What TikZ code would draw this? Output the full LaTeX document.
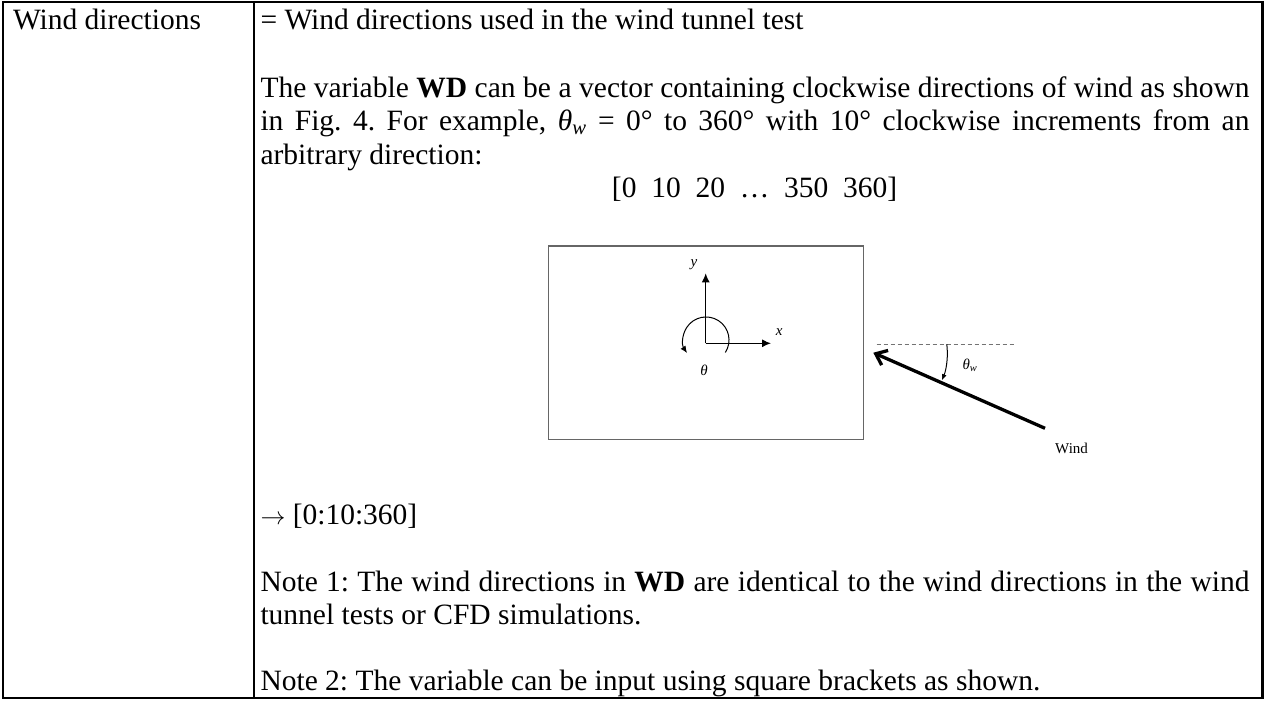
\documentclass[tikz,border=0pt]{standalone}
\usepackage{fontspec}
\setmainfont{Liberation Serif}
\usetikzlibrary{arrows.meta}
\frenchspacing
\begin{document}
\begin{tikzpicture}[x=1pt,y=-1pt,
  txt/.style={anchor=base west, inner sep=0pt, outer sep=0pt, font=\fontsize{29.5}{33.5}\selectfont\frenchspacing},
  rulebox/.style={line width=2.5pt, line join=miter},
  lbl/.style={inner sep=0pt, font=\fontsize{15}{18}\selectfont\itshape},
  axis/.style={line width=1.2pt, -{Latex[length=9pt,width=8pt]}},
]
\useasboundingbox (0,0) rectangle (1264,701);
\fill[white] (0,0) rectangle (1264,701);
% table rules
\draw[rulebox] (3,1.8) -- (1262.5,1.8) -- (1262.5,698) -- (3,698) -- cycle;
\draw[rulebox] (254,1.8) -- (254,698);
% texts
\node[txt] (lab) at (13,30) {Wind directions};
\node[txt] (l1) at (260.5,30) {= Wind directions used in the wind tunnel test};
\node[txt] (p1) at (260.5,97) {\hbox to 989pt{The variable \textbf{WD} can be a vector containing clockwise directions of wind as shown}};
\node[txt] (p2) at (260.5,130.5) {\hbox to 989pt{in Fig. 4. For example, \textit{θ}\textsubscript{\textit{w}} = 0° to 360° with 10° clockwise increments from an}};
\node[txt] (p3) at (260.5,164) {arbitrary direction:};
\node[txt, anchor=base] (vec) at (754.5,197.5) {[0\hspace{.5em}10\hspace{.5em}20\hspace{.5em}…\hspace{.5em}350\hspace{.5em}360]};
% figure
\draw[draw=black!60, line width=1.3pt] (548.3,246) rectangle (863.3,439.3);
\coordinate (O) at (705.7,343.3);
\coordinate (Y) at (705.7,273.3);
\coordinate (X) at (771,343.3);
\draw[axis] (O) -- (Y);
\draw[axis] (O) -- (X);
\node[lbl] (ylab) at (694,265) {y};
\node[lbl] (xlab) at (779.3,331.7) {x};
\draw[line width=1pt, -{Latex[length=7pt,width=6pt]}] (725.3,352.5) arc[start angle=33, end angle=-214.6, radius=23];
\node[lbl] (th) at (704,370.7) {θ};
% wind
\coordinate (WT) at (1045,428.3);
\coordinate (WH) at (873.3,352.7);
\coordinate (D1) at (876.7,344);
\coordinate (D2) at (1015,344);
\draw[black!55, line width=1pt, dash pattern=on 4.5pt off 2.5pt] (D1) -- (D2);
\draw[line width=3.3pt, -{Straight Barb[length=10pt,width=16pt]}] (WT) -- (WH);
\draw[line width=1pt, -{Latex[length=6pt,width=5pt]}] (946.8,344.1) arc[start angle=-6.7, end angle=21.8, radius=74];
\node[lbl] (thw) at (970,365) {θ\textsubscript{w}};
\node[anchor=base west, inner sep=0pt, font=\fontsize{15}{18}\selectfont] (wind) at (1055,453.5) {Wind};
% bottom texts
\node[txt] (arr) at (260.5,524) {$\rightarrow$ [0:10:360]};
\node[txt] (n1a) at (260.5,591) {\hbox to 989pt{Note 1: The wind directions in \textbf{WD} are identical to the wind directions in the wind}};
\node[txt] (n1b) at (260.5,624.5) {tunnel tests or CFD simulations.};
\node[txt] (n2) at (260.5,690) {Note 2: The variable can be input using square brackets as shown.};
\end{tikzpicture}
\end{document}
